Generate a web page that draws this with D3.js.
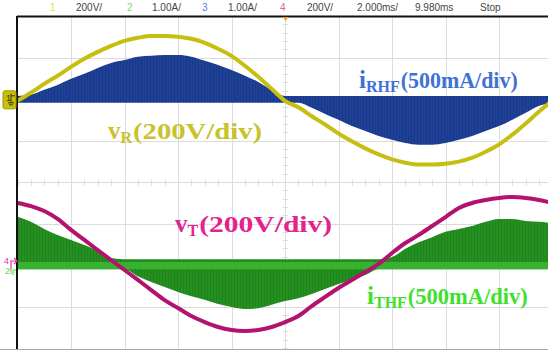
<!DOCTYPE html>
<html>
<head>
<meta charset="utf-8">
<script src="https://cdn.jsdelivr.net/npm/d3@7/dist/d3.min.js"></script>
<style>
  html, body { margin: 0; padding: 0; background: #fff; }
  svg { display: block; }
</style>
</head>
<body>
<div id="scope"></div>
<script>
// time axis, 0.5 ms steps over 10 divisions at 2 ms/div
const timeMs = d3.range(0, 20.01, 0.5);

// ch1 vR (V)
const vR = [-5, 34, 77, 116, 159, 198, 231, 260, 284, 299, 308, 308, 304, 294, 275, 246, 212, 164, 111, 53,
  -5, -36, -79, -119, -162, -200, -234, -263, -287, -303, -312, -312, -308, -298, -279, -250, -215, -168, -114, -56, -3];

// ch3 iRHF envelope (A)
const iRHF = [0, 0.12, 0.24, 0.36, 0.51, 0.63, 0.77, 0.89, 0.96, 1.04, 1.06, 1.08, 1.08, 1.04, 0.94, 0.84, 0.72, 0.58, 0.43, 0.24,
  0, -0.07, -0.19, -0.34, -0.48, -0.63, -0.75, -0.87, -0.96, -1.04, -1.08, -1.08, -1.04, -0.96, -0.87, -0.75, -0.63, -0.48, -0.31, -0.14, 0];

// ch4 vT (V)
const vT = [299, 284, 260, 222, 169, 121, 72, 24, -24, -72, -121, -169, -207, -246, -275, -299, -313, -318, -313, -299,
  -275, -246, -198, -154, -111, -72, -34, 5, 58, 106, 145, 188, 231, 275, 299, 313, 323, 328, 323, 313, 299];

// ch2 iTHF envelope (A)
const iTHF = [1.16, 1.04, 0.87, 0.72, 0.60, 0.48, 0.34, 0.17, -0.07, -0.27, -0.41, -0.53, -0.65, -0.75, -0.84, -0.94, -1.01, -1.06, -1.04, -0.96,
  -0.87, -0.80, -0.70, -0.58, -0.46, -0.36, -0.24, -0.05, 0.19, 0.39, 0.55, 0.67, 0.80, 0.87, 0.94, 1.04, 1.11, 1.11, 1.06, 1.04, 1.01];

// status bar of the scope
const header = [
  { t: "1", x: 50, c: "#e6e23a" },
  { t: "200V/", x: 76, c: "#444" },
  { t: "2", x: 127, c: "#7bdc55" },
  { t: "1.00A/", x: 152, c: "#444" },
  { t: "3", x: 202, c: "#5577dd" },
  { t: "1.00A/", x: 228, c: "#444" },
  { t: "4", x: 280, c: "#ee55aa" },
  { t: "200V/", x: 307, c: "#444" },
  { t: "2.000ms/", x: 357, c: "#444" },
  { t: "9.980ms", x: 415, c: "#444" },
  { t: "Stop", x: 480, c: "#444" }
];

const labels = [
  { main: "i", sub: "RHF", rest: "(500mA/div)", x: 359, y: 88, w: 117, c: "#3f72d6" },
  { main: "v", sub: "R", rest: "(200V/div)", x: 108, y: 139, w: 129, c: "#c9c22a" },
  { main: "v", sub: "T", rest: "(200V/div)", x: 175, y: 232, w: 133, c: "#e3238e" },
  { main: "i", sub: "THF", rest: "(500mA/div)", x: 367, y: 304, w: 120, c: "#3ee02c" }
];

const W = 548, H = 350;
const svg = d3.select("#scope").append("svg")
  .attr("width", W)
  .attr("height", H);

svg.append("rect").attr("width", W).attr("height", H).attr("fill", "#fff");

const x = d3.scaleLinear().domain([0, 20]).range([17.5, 552.5]);
const yDiv = d3.scaleLinear().domain([-4, 4]).range([348, 16]);

// channel scales: ground offset in divisions and units per division
function chScale(offset, perDiv) {
  return d3.scaleLinear()
    .domain([(-4 - offset) * perDiv, (4 - offset) * perDiv])
    .range([348, 16]);
}
const y1 = chScale(1.98, 200);
const y3 = chScale(1.98, 1.0);
const y4 = chScale(-2.0, 200);
const y2 = chScale(-2.0, 1.0);

// grid
const grid = svg.append("g").attr("stroke", "#dcdcdc").attr("stroke-width", 1);
grid.selectAll(".gv").data(d3.range(2, 20, 2)).enter().append("line")
  .attr("x1", d => Math.round(x(d)) + 0.5).attr("x2", d => Math.round(x(d)) + 0.5)
  .attr("y1", 16).attr("y2", 349);
grid.selectAll(".gh").data(d3.range(-3, 4, 1)).enter().append("line")
  .attr("x1", 17).attr("x2", W)
  .attr("y1", d => Math.round(yDiv(d)) + 0.5).attr("y2", d => Math.round(yDiv(d)) + 0.5);

// centre ticks
const cy = Math.round(yDiv(0)) + 0.5, cx = Math.round(x(10)) + 0.5;
grid.selectAll(".th").data(d3.range(0, 20.01, 0.5)).enter().append("line")
  .attr("x1", d => Math.round(x(d)) + 0.5).attr("x2", d => Math.round(x(d)) + 0.5)
  .attr("y1", cy - 3).attr("y2", cy + 3);
grid.selectAll(".tv").data(d3.range(-4, 4.01, 0.2)).enter().append("line")
  .attr("x1", cx - 3).attr("x2", cx + 3)
  .attr("y1", d => Math.round(yDiv(d)) + 0.5).attr("y2", d => Math.round(yDiv(d)) + 0.5);

// PWM-like current envelopes drawn as filled areas around the ground band
function band(data, yScale, hi, lo) {
  return d3.area()
    .x((d, i) => x(timeMs[i]))
    .y0((d) => yScale(Math.min(d, lo)))
    .y1((d) => yScale(Math.max(d, hi)))
    .curve(d3.curveMonotoneX)(data);
}

const defs = svg.append("defs");
function stripes(id, base, line) {
  const p = defs.append("pattern").attr("id", id)
    .attr("patternUnits", "userSpaceOnUse").attr("width", 3).attr("height", 10);
  p.append("rect").attr("width", 3).attr("height", 10).attr("fill", base);
  p.append("rect").attr("width", 1).attr("height", 10).attr("fill", line);
}
stripes("blueFill", "#1e4096", "#1a3888");
stripes("greenFill", "#23901f", "#1f821c");

svg.append("path")
  .attr("d", band(iRHF, y3, 0.09, -0.07))
  .attr("fill", "url(#blueFill)");

svg.append("path")
  .attr("d", band(iTHF, y2, 0.14, -0.10))
  .attr("fill", "url(#greenFill)");
// lighter ground band of the green channel
svg.append("path")
  .attr("d", band(iTHF.map(() => 0), y2, 0.07, -0.10))
  .attr("fill", "#3dbb35").attr("opacity", 0.8);

const line = (yScale) => d3.line()
  .x((d, i) => x(timeMs[i]))
  .y(d => yScale(d))
  .curve(d3.curveMonotoneX);

svg.append("path").datum(vR)
  .attr("d", line(y1))
  .attr("fill", "none").attr("stroke", "#c6bf12").attr("stroke-width", 4);
svg.append("path").datum(vT)
  .attr("d", line(y4))
  .attr("fill", "none").attr("stroke", "#b3136f").attr("stroke-width", 4);

// frame
svg.append("line").attr("x1", 17).attr("x2", W).attr("y1", 16.5).attr("y2", 16.5)
  .attr("stroke", "#111").attr("stroke-width", 2);
svg.append("line").attr("x1", 17).attr("x2", 17).attr("y1", 16).attr("y2", H)
  .attr("stroke", "#111").attr("stroke-width", 2);
svg.append("line").attr("x1", 0).attr("x2", W).attr("y1", 349.5).attr("y2", 349.5)
  .attr("stroke", "#aaa").attr("stroke-width", 1);

// trigger marker
svg.append("path")
  .attr("d", `M${cx - 3},17 L${cx + 3},17 L${cx},21 Z`)
  .attr("fill", "#f0a030");

// channel markers
const m1 = svg.append("g").attr("transform", `translate(3,${y1(0) - 9})`);
m1.append("rect").attr("width", 13).attr("height", 18).attr("rx", 2)
  .attr("fill", "#c8c000").attr("stroke", "#a09a00");
m1.append("text").attr("x", 3).attr("y", 10).attr("font-family", "Liberation Sans, Arial")
  .attr("font-size", 9).attr("fill", "#333").text("1");
m1.append("path").attr("d", "M8,3 L8,12 M5,12 L11,12 M6,14 L10,14 M8,5 L12,5")
  .attr("stroke", "#333").attr("stroke-width", 1).attr("fill", "none");

const m4 = svg.append("g").attr("transform", `translate(4,${y4(0) - 9})`);
m4.append("text").attr("x", 0).attr("y", 8).attr("font-family", "Liberation Sans, Arial")
  .attr("font-size", 9).attr("fill", "#ee3399").text("4");
m4.append("path").attr("d", "M6,5 L13,5 M10,2 L13,5 L10,8 M7,5 L7,13")
  .attr("stroke", "#ee3399").attr("stroke-width", 1.2).attr("fill", "none");
m4.append("text").attr("x", 1).attr("y", 18).attr("font-family", "Liberation Sans, Arial")
  .attr("font-size", 9).attr("fill", "#55dd44").text("2");
m4.append("path").attr("d", "M5,14 L12,14 M6,16 L11,16 M7,18 L10,18")
  .attr("stroke", "#55dd44").attr("stroke-width", 1).attr("fill", "none");

// status bar
svg.append("g").selectAll("text").data(header).enter().append("text")
  .attr("x", d => d.x).attr("y", 11)
  .attr("font-family", "Liberation Sans, Arial, sans-serif")
  .attr("font-size", 10)
  .attr("fill", d => d.c)
  .text(d => d.t);

// trace labels: big letter, subscript, then the scale text
const serif = "Liberation Serif, Times New Roman, serif";
labels.forEach(d => {
  const g = svg.append("g")
    .attr("font-family", serif).attr("font-weight", "bold").attr("fill", d.c);
  const m = g.append("text").attr("x", d.x).attr("y", d.y).attr("font-size", 25).text(d.main);
  const mw = m.node().getComputedTextLength();
  const s = g.append("text").attr("x", d.x + mw).attr("y", d.y + 4).attr("font-size", 16).text(d.sub);
  const sw = s.node().getComputedTextLength();
  g.append("text").attr("x", d.x + mw + sw + 1).attr("y", d.y).attr("font-size", 24)
    .attr("textLength", d.w).attr("lengthAdjust", "spacingAndGlyphs")
    .text(d.rest);
});
</script>
</body>
</html>
